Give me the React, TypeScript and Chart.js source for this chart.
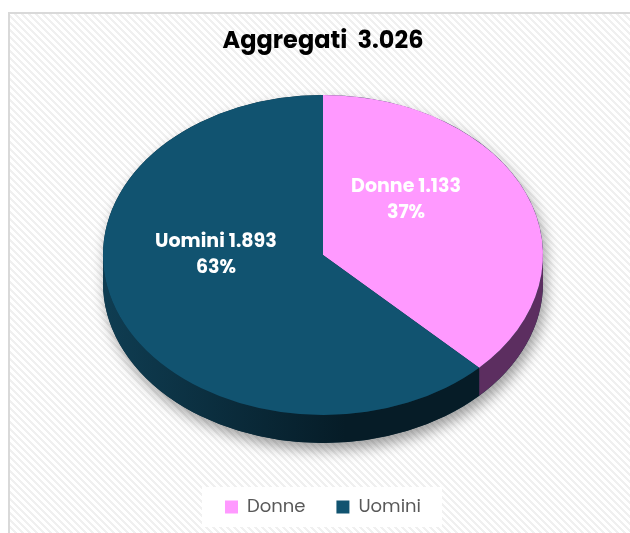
import React, { useEffect, useRef } from "react";
import { Chart, registerables } from "chart.js";
Chart.register(...registerables);

const categories = ["Donne", "Uomini"];
const values = [1133, 1893];
const sliceColors = ["#FF99FF", "#115370"];
const sideColors = [
  ["#7a437e", "#5c2e60"],
  ["#0f3d52", "#061c27"],
];
const titlePrefix = "Aggregati";

const FONT = "Poppins, 'Open Sans', sans-serif";
const TILT = 160 / 220;
const DEPTH = 28;

const fmt = (n: number) =>
  String(Math.round(n)).replace(/\B(?=(\d{3})+(?!\d))/g, ".");

function makePattern(ctx: CanvasRenderingContext2D) {
  const s = 7;
  const c = document.createElement("canvas");
  c.width = s;
  c.height = s;
  const pc = c.getContext("2d")!;
  const img = pc.createImageData(s, s);
  for (let y = 0; y < s; y++) {
    for (let x = 0; x < s; x++) {
      const on = (((x - y) % s) + s) % s < 3;
      const v = on ? 240 : 255;
      const i = (y * s + x) * 4;
      img.data[i] = v;
      img.data[i + 1] = v;
      img.data[i + 2] = v;
      img.data[i + 3] = 255;
    }
  }
  pc.putImageData(img, 0, 0);
  return ctx.createPattern(c, "repeat");
}

function geom(chart: any) {
  const meta = chart.getDatasetMeta(0);
  const arcs = meta.data as any[];
  const a0 = arcs[0];
  const ca = chart.chartArea;
  const R = a0.outerRadius;
  const cx = a0.x;
  const cy = (ca.top + ca.bottom) / 2 - DEPTH / 2;
  return { arcs, cx, cy, ay: a0.y, R, ry: R * TILT };
}

const backgroundPlugin = {
  id: "bg",
  beforeDraw(chart: any) {
    const { ctx, width, height } = chart;
    ctx.save();
    ctx.fillStyle = "#ffffff";
    ctx.fillRect(0, 0, width, height);
    const pat = makePattern(ctx);
    if (pat) ctx.fillStyle = pat;
    ctx.fillRect(9, 13, width, height);
    ctx.strokeStyle = "#d9d9d9";
    ctx.lineWidth = 2;
    ctx.strokeRect(9, 13, width + 20, height + 20);
    const lg = chart.legend;
    const hb = lg && lg.legendHitBoxes;
    if (hb && hb.length) {
      const l = Math.min(...hb.map((h: any) => h.left));
      const r = Math.max(...hb.map((h: any) => h.left + h.width));
      const mid = hb[0].top + hb[0].height / 2;
      ctx.fillStyle = "#ffffff";
      ctx.fillRect(l - 23, mid - 20, r - l + 44, 40);
    }
    ctx.restore();
  },
};

const pie3dPlugin = {
  id: "pie3d",
  beforeDatasetsDraw(chart: any) {
    const ctx = chart.ctx as CanvasRenderingContext2D;
    const { arcs, cx, cy, ay, R, ry } = geom(chart);
    // shadow silhouette
    ctx.save();
    ctx.shadowColor = "rgba(0,0,0,0.38)";
    ctx.shadowBlur = 14;
    ctx.shadowOffsetX = 3;
    ctx.shadowOffsetY = 7;
    ctx.fillStyle = "#0a2a3a";
    ctx.beginPath();
    ctx.ellipse(cx, cy, R, ry, 0, Math.PI, 2 * Math.PI);
    ctx.ellipse(cx, cy + DEPTH, R, ry, 0, 0, Math.PI);
    ctx.closePath();
    ctx.fill();
    ctx.restore();
    // side walls
    ctx.save();
    arcs.forEach((arc: any, i: number) => {
      const s = arc.startAngle;
      const e = arc.endAngle;
      for (const off of [-2 * Math.PI, 0, 2 * Math.PI]) {
        const a = Math.max(s, off);
        const b = Math.min(e, off + Math.PI);
        if (b <= a) continue;
        const g = ctx.createLinearGradient(cx - R, 0, cx + R, 0);
        g.addColorStop(0, sideColors[i][0]);
        g.addColorStop(0.55, sideColors[i][1]);
        g.addColorStop(1, sideColors[i][1]);
        ctx.fillStyle = g;
        ctx.beginPath();
        ctx.ellipse(cx, cy, R, ry, 0, a, b, false);
        ctx.ellipse(cx, cy + DEPTH, R, ry, 0, b, a, true);
        ctx.closePath();
        ctx.fill();
      }
    });
    ctx.restore();
    // squash the pie top into an ellipse
    ctx.save();
    ctx.translate(cx, cy);
    ctx.scale(1, TILT);
    ctx.translate(-cx, -ay);
  },
  afterDatasetsDraw(chart: any) {
    const ctx = chart.ctx as CanvasRenderingContext2D;
    ctx.restore();
    const { arcs, cx, cy, R, ry } = geom(chart);
    const total = values.reduce((p, v) => p + v, 0);
    ctx.save();
    ctx.fillStyle = "#ffffff";
    ctx.font = `bold 19px ${FONT}`;
    ctx.textAlign = "center";
    ctx.textBaseline = "middle";
    arcs.forEach((arc: any, i: number) => {
      const mid = (arc.startAngle + arc.endAngle) / 2;
      const lx = cx + 0.468 * R * Math.cos(mid) - 12;
      const ly = cy + 0.445 * ry * Math.sin(mid) - 27;
      ctx.fillText(`${categories[i]} ${fmt(values[i])}`, lx, ly - 13);
      ctx.fillText(`${Math.round((values[i] / total) * 100)}%`, lx, ly + 13);
    });
    ctx.restore();
  },
};

export default function App() {
  const ref = useRef<HTMLCanvasElement>(null);
  useEffect(() => {
    if (!ref.current) return;
    const total = values.reduce((p, v) => p + v, 0);
    const chart = new Chart(ref.current, {
      type: "pie",
      data: {
        labels: categories,
        datasets: [
          {
            data: values,
            backgroundColor: sliceColors,
            borderWidth: 0,
            radius: 220,
            clip: false,
          } as any,
        ],
      },
      options: {
        responsive: false,
        animation: false,
        layout: { padding: { left: 16, right: 0, top: 0, bottom: 7 } },
        plugins: {
          tooltip: { enabled: false },
          title: {
            display: true,
            text: `${titlePrefix}  ${fmt(total)}`,
            color: "#000000",
            font: { family: FONT, size: 24, weight: "bold" },
            padding: { top: 27.6, bottom: 14.6 },
          },
          legend: {
            display: true,
            position: "bottom",
            labels: {
              boxWidth: 13,
              boxHeight: 13,
              padding: 31,
              color: "#595959",
              font: { family: FONT, size: 18 },
            },
          },
        },
      },
      plugins: [backgroundPlugin, pie3dPlugin],
    });
    return () => chart.destroy();
  }, []);
  return (
    <div style={{ position: "absolute", left: 0, top: 0, width: 630, height: 533 }}>
      <canvas ref={ref} width={630} height={533} />
    </div>
  );
}
